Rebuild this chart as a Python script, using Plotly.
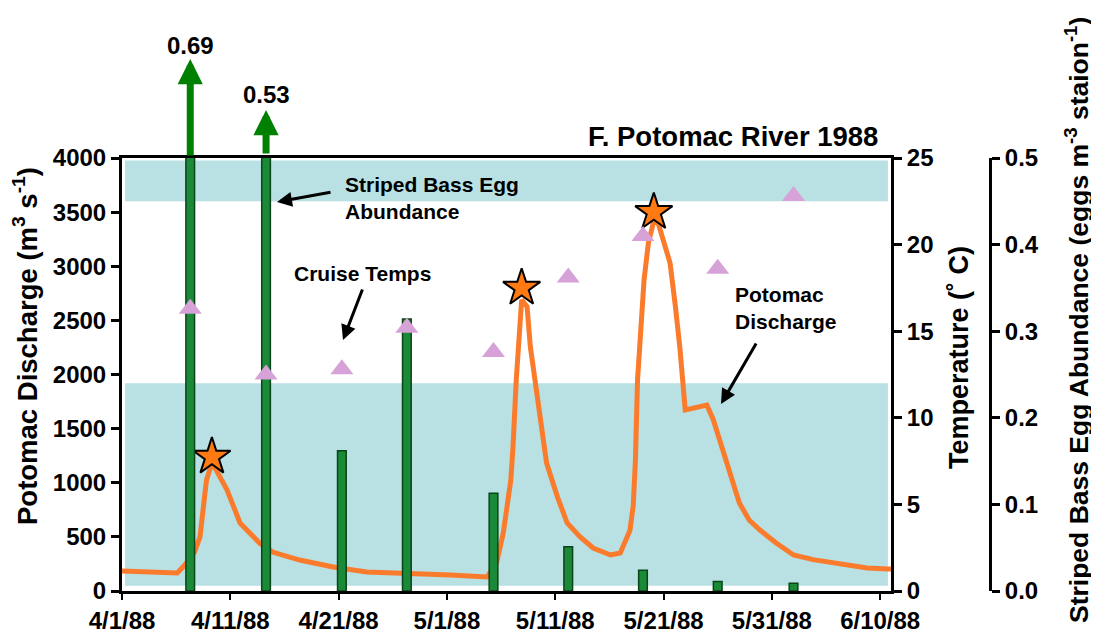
import pandas as pd
import plotly.graph_objects as go

# ---------------- data ----------------
BASE = pd.Timestamp("1988-04-01")

# Potomac discharge (m3 s-1), x = days since 4/1/88
discharge_days = [0.0, 2.6, 5.1, 5.8, 6.7, 7.2, 7.5, 7.8, 8.3, 8.7, 9.7, 10.9, 12.7, 13.9,
                  16.4, 19.5, 22.6, 25.7, 27.5, 30.3, 33.7, 34.6, 35.2, 35.9, 36.1, 36.4,
                  36.9, 37.4, 37.7, 38.1, 38.6, 39.2, 40.2, 41.1, 42.3, 43.5, 45.1, 46.0,
                  46.9, 47.2, 47.4, 47.6, 47.9, 48.2, 48.6, 49.1, 49.5, 50.0, 50.6, 51.1,
                  51.5, 52.0, 54.0, 54.6, 55.2, 56.1, 57.0, 57.9, 58.9, 60.4, 62.0, 63.8,
                  65.7, 67.2, 68.8, 70.7, 71.0]
discharge_vals = [185, 175, 166, 240, 360, 500, 776, 1025, 1180, 1118, 933, 628, 443, 360,
                  286, 222, 176, 166, 166, 148, 129, 268, 535, 1025, 1330, 1950,
                  2690, 2626, 2257, 1950, 1644, 1182, 870, 628, 500, 397, 333, 351,
                  560, 790, 1200, 1950, 2411, 2873, 3215, 3420, 3400, 3242, 3030, 2623,
                  2254, 1672, 1718, 1580, 1395, 1118, 813, 656, 563, 443, 333, 290,
                  259, 235, 212, 203, 203]

# discharge peaks (stars)
peak_days = [8.3, 36.9, 49.1]
peak_vals = [1240, 2800, 3500]

# cruises: egg abundance (eggs m-3 station-1) and temperature (deg C)
cruise_days = [6.3, 13.3, 20.3, 26.3, 34.3, 41.2, 48.1, 55.0, 62.0]
egg_vals = [0.69, 0.53, 0.162, 0.314, 0.113, 0.051, 0.024, 0.011, 0.009]
temp_vals = [16.3, 12.5, 12.8, 15.2, 13.8, 18.1, 20.5, 18.6, 22.8]

# temperature bands (shaded)
band_low = [0.3, 12.0]
band_high = [22.5, 24.85]

tick_dates = ["1988-04-01", "1988-04-11", "1988-04-21", "1988-05-01",
              "1988-05-11", "1988-05-21", "1988-05-31", "1988-06-10"]
tick_labels = ["4/1/88", "4/11/88", "4/21/88", "5/1/88",
               "5/11/88", "5/21/88", "5/31/88", "6/10/88"]


def to_dates(days):
    return [BASE + pd.Timedelta(days=d) for d in days]


FONT = "Arial, Liberation Sans, sans-serif"
ORANGE = "#fb7b2c"
TEAL = "#b9e0e3"
GREEN = "#1a8a38"

fig = go.Figure()

# discharge line (main y axis)
fig.add_trace(go.Scatter(x=to_dates(discharge_days), y=discharge_vals, mode="lines",
                         line=dict(color=ORANGE, width=5), yaxis="y",
                         name="Potomac Discharge", showlegend=False))
fig.add_trace(go.Scatter(x=to_dates(peak_days), y=peak_vals, mode="markers",
                         marker=dict(symbol="star", size=28, color="#ff7a12",
                                     line=dict(color="black", width=2)),
                         yaxis="y", showlegend=False))

# egg abundance bars (yaxis2)
fig.add_trace(go.Bar(x=to_dates(cruise_days), y=egg_vals, yaxis="y2",
                     width=0.8 * 86400000,
                     marker=dict(color=GREEN, line=dict(color="#0b4418", width=1.5)),
                     showlegend=False))

# cruise temps (yaxis3)
fig.add_trace(go.Scatter(x=to_dates(cruise_days), y=temp_vals, mode="markers", yaxis="y3",
                         marker=dict(symbol="triangle-up", size=20, color="#d6a2d8",
                                     line=dict(width=0)),
                         showlegend=False))

# shaded temperature bands
for lo, hi in [band_low, band_high]:
    fig.add_shape(type="rect", xref="x domain", yref="y3", x0=0.004, x1=0.996,
                  y0=lo, y1=hi, fillcolor=TEAL, line=dict(width=0), layer="below")

tickfont = dict(family=FONT, size=24, color="black", weight="bold")
axis_common = dict(showline=True, linecolor="black", linewidth=3, ticks="outside",
                   tickcolor="black", tickwidth=3, ticklen=8, showgrid=False,
                   zeroline=False, tickfont=tickfont, automargin=False)

# page offset of the figure (browser body margin) is 8 px
ML, MT, MR = 114, 150, 10
PLOT_W, PLOT_H = 769, 433
PAPER_W = 1099 - ML - MR
XDOM_END = PLOT_W / PAPER_W
EGG_POS = (990 - 122) / PAPER_W

fig.update_layout(
    width=1099, height=641,
    margin=dict(l=ML, r=MR, t=MT, b=641 - MT - PLOT_H, autoexpand=False),
    paper_bgcolor="white", plot_bgcolor="white",
    showlegend=False,
    barmode="overlay",
    xaxis=dict(type="date", domain=[0, XDOM_END],
               range=[BASE, BASE + pd.Timedelta(days=71)],
               tickvals=tick_dates, ticktext=tick_labels,
               mirror=True, **{**axis_common, "ticklen": 6, "tickwidth": 2}),
    yaxis=dict(range=[0, 4000], tickvals=list(range(0, 4001, 500)), **axis_common),
    yaxis2=dict(overlaying="y", side="right", anchor="free", position=EGG_POS,
                range=[0, 0.5], tickvals=[0, 0.1, 0.2, 0.3, 0.4, 0.5], tickformat=".1f",
                **axis_common),
    yaxis3=dict(overlaying="y", side="right", anchor="x", range=[0, 25],
                tickvals=[0, 5, 10, 15, 20, 25], **axis_common),
)


def px_x(p):
    return (p - 122) / PAPER_W


def px_y(p):
    return (591 - p) / PLOT_H


def bold(size):
    return dict(family=FONT, size=size, color="black", weight="bold")


ann = []
# title
ann.append(dict(text="F. Potomac River 1988", xref="paper", yref="paper",
                x=px_x(880), y=px_y(137), xanchor="right", yanchor="middle",
                showarrow=False, font=bold(27.5)))
# off-scale egg arrows and labels
cruise_dates = to_dates(cruise_days)
for i, (tip, tail, lab_y) in enumerate([(59, 157, 45), (110, 155, 95)]):
    ann.append(dict(text="", xref="x", yref="paper", x=cruise_dates[i], y=px_y(tip),
                    ax=0, ay=tail - tip, showarrow=True, arrowhead=2, arrowsize=0.72,
                    arrowwidth=7, arrowcolor="#008000", standoff=0))
    ann.append(dict(text=f"{egg_vals[i]:.2f}", xref="x", yref="paper",
                    x=cruise_dates[i], y=px_y(lab_y), showarrow=False,
                    xanchor="center", yanchor="middle", font=bold(24)))

# callouts
ann.append(dict(text="Striped Bass Egg<br>Abundance", xref="paper", yref="paper",
                x=px_x(343), y=px_y(198), xanchor="left", yanchor="middle", align="left",
                showarrow=False, font=bold(21)))
ann.append(dict(text="", xref="paper", yref="paper", x=px_x(277), y=px_y(202),
                ax=55, ay=-10, showarrow=True, arrowhead=2, arrowsize=1,
                arrowwidth=3, arrowcolor="black", standoff=0))
ann.append(dict(text="Cruise Temps", xref="paper", yref="paper",
                x=px_x(362), y=px_y(273), xanchor="center", yanchor="middle",
                showarrow=False, font=bold(21)))
ann.append(dict(text="", xref="paper", yref="paper", x=px_x(343), y=px_y(340),
                ax=20, ay=-52, showarrow=True, arrowhead=2, arrowsize=1,
                arrowwidth=3, arrowcolor="black", standoff=0))
ann.append(dict(text="Potomac<br>Discharge", xref="paper", yref="paper",
                x=px_x(733), y=px_y(308), xanchor="left", yanchor="middle", align="left",
                showarrow=False, font=bold(21)))
ann.append(dict(text="", xref="paper", yref="paper", x=px_x(721), y=px_y(404),
                ax=36, ay=-62, showarrow=True, arrowhead=2, arrowsize=1,
                arrowwidth=3, arrowcolor="black", standoff=0))

# axis titles
ann.append(dict(text="Potomac Discharge (m<sup>3</sup> s<sup>-1</sup>)", textangle=-90,
                xref="paper", yref="paper", x=px_x(25), y=px_y(346),
                xanchor="center", yanchor="middle", showarrow=False, font=bold(27.5)))
ann.append(dict(text="Temperature (˚ C)", textangle=-90,
                xref="paper", yref="paper", x=px_x(959), y=px_y(358),
                xanchor="center", yanchor="middle", showarrow=False, font=bold(27)))
ann.append(dict(text="Striped Bass Egg Abundance (eggs m<sup>-3</sup> staion<sup>-1</sup>)",
                textangle=-90, xref="paper", yref="paper", x=px_x(1077), y=px_y(320),
                xanchor="center", yanchor="middle", showarrow=False, font=bold(26.5)))

fig.update_layout(annotations=ann)

fig.write_html("out.html")
